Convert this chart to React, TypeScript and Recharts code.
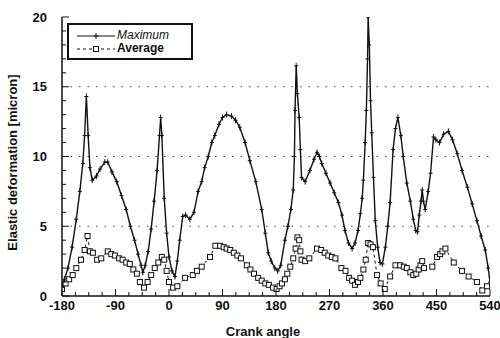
import React from "react";
import { LineChart, Line, XAxis, YAxis, CartesianGrid, Legend } from "recharts";

// crank angle (deg) / elastic deformation (micron)
const maxAngle = [
  -180, -176, -170, -163, -156, -150, -145, -142, -139, -136, -133, -129, -122, -116, -108, -103,
  -96, -88, -80, -72, -65, -58, -52, -47, -44, -40, -35, -30, -25, -20, -16, -14, -12, -8, -4,
  0, 5, 10, 14, 18, 23, 28, 35, 42, 49, 55, 60, 66, 72, 77, 84, 90, 97, 105, 112, 119, 128, 136,
  146, 156, 162, 167, 172, 178, 183, 188, 195, 200, 205, 209, 211, 212, 214, 216, 219, 221, 223,
  229, 237, 244, 249, 253, 257, 264, 271, 278, 285, 291, 296, 302, 308, 313, 318, 322, 325, 327,
  330, 332, 334, 335, 337, 339, 341, 344, 347, 351, 355, 359, 364, 368, 372, 377, 381, 385, 390,
  394, 400, 406, 411, 415, 418, 421, 424, 426, 428, 431, 436, 440, 445, 449, 455, 462, 470, 477,
  485, 493, 502, 510, 518, 525, 532, 537, 540,
];
const maxValue = [
  0.6, 1.2, 2.0, 3.5, 5.5, 7.5, 9.5, 11.5, 14.3, 11.5, 9.2, 8.3, 8.6, 9.1, 9.6, 9.6,
  8.9, 8.2, 7.2, 6.2, 5.0, 4.0, 3.0, 2.2, 1.7, 2.2, 3.2, 4.8, 6.8, 9.0, 11.5, 12.8, 11.5, 7.0, 4.5,
  2.8, 1.8, 1.4, 2.5, 4.0, 5.7, 5.8, 5.5, 6.0, 7.5, 8.2, 9.2, 10.0, 11.0, 11.5, 12.3, 12.8, 13.0, 12.9, 12.6, 12.1, 11.0, 9.7,
  8.2, 6.2, 4.5, 3.1, 2.5, 2.0, 1.8, 2.2, 4.0, 5.0, 6.2, 7.6, 10.0, 13.3, 16.5, 14.5, 12.8, 10.5, 8.5,
  8.2, 9.0, 9.8, 10.3, 10.0, 9.5, 8.8, 8.1, 7.4, 6.7, 5.8, 4.7, 3.8, 3.4, 3.8, 4.7, 5.9, 7.0, 8.3,
  11.0, 13.3, 17.0, 20.0, 18.0, 14.0, 11.7, 8.5, 5.4, 3.5, 2.4, 2.3, 3.5, 5.0, 6.7, 10.5, 12.0, 12.8, 11.5,
  10.0, 8.1, 6.8, 5.5, 4.7, 4.6, 5.8, 6.8, 7.6, 6.8, 6.2, 7.5, 8.8, 11.4, 11.2, 11.0, 11.6, 11.8, 11.2,
  10.2, 9.0, 7.8, 6.6, 5.4, 4.3, 3.3, 2.0, 1.0,
];

const avgAngle = [
  -180, -174, -168, -162, -156, -148, -142, -137, -133, -128, -121, -114, -103, -97, -91, -84, -78,
  -72, -66, -60, -54, -49, -42, -36, -30, -24, -18, -12, -8, -4, 0, 7, 14, 27, 40, 47, 55, 69, 78,
  86, 92, 97, 103, 109, 115, 121, 131, 137, 143, 150, 156, 162, 168, 175, 181, 186, 190, 195, 199,
  204, 209, 213, 216, 219, 221, 223, 229, 236, 249, 256, 262, 268, 274, 280, 290, 297, 303, 308,
  313, 318, 322, 327, 331, 335, 339, 343, 350, 356, 363, 372, 381, 389, 395, 400, 406, 411, 416,
  420, 423, 426, 429, 443, 451, 456, 460, 465, 479, 493, 504, 518, 527, 535,
];
const avgValue = [
  0.5, 0.9, 1.2, 1.5, 2.0, 2.6, 3.3, 4.3, 3.2, 3.1, 2.6, 2.7, 3.2, 3.0, 2.9, 2.7, 2.6,
  2.4, 2.3, 1.9, 1.6, 1.0, 0.6, 1.0, 1.5, 2.0, 2.4, 2.8, 2.6, 1.8, 1.0, 0.6, 0.7, 1.3, 1.5, 1.8, 2.1, 2.8, 3.6,
  3.6, 3.5, 3.4, 3.3, 3.1, 2.9, 2.7, 2.2, 1.9, 1.6, 1.3, 1.1, 0.9, 0.8, 0.6, 0.5, 0.7, 0.9, 1.2, 1.6,
  2.1, 2.7, 3.4, 4.2, 4.0, 3.2, 2.6, 2.5, 2.7, 3.4, 3.3, 3.1, 2.9, 2.8, 2.7, 2.0, 1.8, 1.3, 1.1,
  0.8, 1.0, 1.3, 1.9, 2.6, 3.8, 3.7, 3.5, 1.5, 0.9, 0.5, 1.4, 2.2, 2.2, 2.1, 2.0, 1.7, 1.5, 1.6,
  1.9, 2.2, 2.5, 2.0, 2.1, 2.8, 3.0, 3.2, 3.4, 2.4, 1.8, 1.4, 1.0, 0.4, 0.7,
];

const xMajorTicks = [-180, -90, 0, 90, 180, 270, 360, 450, 540];
const xMinorTicks = [
  -157.5, -135, -112.5, -67.5, -45, -22.5, 22.5, 45, 67.5, 112.5, 135, 157.5,
  202.5, 225, 247.5, 292.5, 315, 337.5, 382.5, 405, 427.5, 472.5, 495, 517.5,
];
const yMajorTicks = [0, 5, 10, 15, 20];
const yMinorTicks = [1, 2, 3, 4, 6, 7, 8, 9, 11, 12, 13, 14, 16, 17, 18, 19];

const maxData = maxAngle.map((a, i) => ({ angle: a, value: maxValue[i] }));
const avgData = avgAngle.map((a, i) => ({ angle: a, value: avgValue[i] }));
const xAllTicks = [...xMajorTicks, ...xMinorTicks].sort((a, b) => a - b);
const yAllTicks = [...yMajorTicks, ...yMinorTicks].sort((a, b) => a - b);

const FONT = "'Liberation Sans', Arial, sans-serif";
const tickStyle = { fontFamily: FONT, fontSize: 13, fontWeight: 700, fill: "#111" };
const MAJOR = 7;
const MINOR = 4;
const X_MARGIN = 9;
const Y_MARGIN = 15;

const isMajorX = (v: number) => xMajorTicks.includes(v);
const isMajorY = (v: number) => yMajorTicks.includes(v);

// bottom axis: inward tick line + label on majors
const BottomTick = (props: any) => {
  const { x, y, payload } = props;
  const axisY = y - X_MARGIN;
  const major = isMajorX(payload.value);
  return (
    <g>
      <line x1={x} y1={axisY} x2={x} y2={axisY - (major ? MAJOR : MINOR)} stroke="#111" />
      {major && (
        <text x={x} y={axisY + 14} textAnchor="middle" style={tickStyle}>
          {payload.value}
        </text>
      )}
    </g>
  );
};

const TopTick = (props: any) => {
  const { x, y, payload } = props;
  return <line x1={x} y1={y} x2={x} y2={y + (isMajorX(payload.value) ? MAJOR : MINOR)} stroke="#111" />;
};

const LeftTick = (props: any) => {
  const { x, y, payload } = props;
  const axisX = x + Y_MARGIN;
  const major = isMajorY(payload.value);
  return (
    <g>
      <line x1={axisX} y1={y} x2={axisX + (major ? MAJOR : MINOR)} y2={y} stroke="#111" />
      {major && (
        <text x={axisX - Y_MARGIN} y={y + 4.5} textAnchor="end" style={tickStyle}>
          {payload.value}
        </text>
      )}
    </g>
  );
};

const RightTick = (props: any) => {
  const { x, y, payload } = props;
  return <line x1={x} y1={y} x2={x - (isMajorY(payload.value) ? MAJOR : MINOR)} y2={y} stroke="#111" />;
};

const PlusDot = (props: any) => {
  const { cx, cy, index } = props;
  if (cx == null || cy == null) return <g key={`p-${index}`} />;
  return (
    <path
      key={`p-${index}`}
      d={`M${cx - 2},${cy}h4M${cx},${cy - 3}v6`}
      stroke="#111"
      strokeWidth={1}
      fill="none"
    />
  );
};

const SquareDot = (props: any) => {
  const { cx, cy, index } = props;
  if (cx == null || cy == null) return <g key={`s-${index}`} />;
  return (
    <rect key={`s-${index}`} x={cx - 2.5} y={cy - 2.5} width={5} height={5} fill="#fff" stroke="#111" strokeWidth={1} />
  );
};

const LegendBox = () => (
  <div
    style={{
      border: "2px solid #111",
      width: 126,
      height: 37,
      background: "#fff",
      fontFamily: FONT,
      fontSize: 12,
      fontWeight: 700,
      color: "#111",
      boxSizing: "border-box",
      padding: "4px 0 0 8px",
      lineHeight: "13px",
    }}
  >
    <div style={{ display: "flex", alignItems: "center" }}>
      <svg width={40} height={10}>
        <line x1={0} y1={5} x2={38} y2={5} stroke="#111" strokeWidth={1} />
        <path d="M17,5h4M19,2v6" stroke="#111" />
      </svg>
      <span style={{ fontStyle: "italic", fontWeight: 400 }}>Maximum</span>
    </div>
    <div style={{ display: "flex", alignItems: "center" }}>
      <svg width={40} height={10}>
        <line x1={0} y1={5} x2={38} y2={5} stroke="#111" strokeWidth={1} strokeDasharray="3 3" />
        <rect x={16.5} y={2.5} width={5} height={5} fill="#fff" stroke="#111" />
      </svg>
      <span>Average</span>
    </div>
  </div>
);

export default function App() {
  return (
    <div style={{ position: "absolute", left: 0, top: 0, width: 500, height: 338, background: "#fff" }}>
      <LineChart width={500} height={338} margin={{ top: 17, right: 10, bottom: 12, left: 0 }}>
        <CartesianGrid
          xAxisId="b"
          yAxisId="l"
          vertical={false}
          horizontalValues={[5, 10, 15]}
          stroke="#444"
          strokeDasharray="1.5 7"
        />
        <XAxis
          xAxisId="b"
          dataKey="angle"
          type="number"
          domain={[-180, 540]}
          ticks={xAllTicks}
          interval={0}
          allowDataOverflow
          height={30}
          tickLine={false}
          tickSize={0}
          tickMargin={X_MARGIN}
          axisLine={{ stroke: "#111", strokeWidth: 1.5 }}
          tick={<BottomTick />}
          label={{ value: "Crank angle", position: "insideBottom", offset: -10, dx: -13, style: { ...tickStyle, fontSize: 13 } }}
        />
        <XAxis
          xAxisId="t"
          orientation="top"
          type="number"
          domain={[-180, 540]}
          ticks={xAllTicks}
          interval={0}
          allowDataOverflow
          height={0}
          tickLine={false}
          tickSize={0}
          tickMargin={0}
          axisLine={{ stroke: "#111", strokeWidth: 1.5 }}
          tick={<TopTick />}
        />
        <YAxis
          yAxisId="l"
          type="number"
          domain={[0, 20]}
          ticks={yAllTicks}
          interval={0}
          allowDataOverflow
          width={62}
          tickLine={false}
          tickSize={0}
          tickMargin={Y_MARGIN}
          axisLine={{ stroke: "#111", strokeWidth: 1.5 }}
          tick={<LeftTick />}
          label={{ value: "Elastic deformation [micron]", angle: -90, position: "insideLeft", offset: 12, dy: 6, style: { ...tickStyle, textAnchor: "middle" } }}
        />
        <YAxis
          yAxisId="r"
          orientation="right"
          type="number"
          domain={[0, 20]}
          ticks={yAllTicks}
          interval={0}
          allowDataOverflow
          width={0}
          tickLine={false}
          tickSize={0}
          tickMargin={0}
          axisLine={{ stroke: "#111", strokeWidth: 1.5 }}
          tick={<RightTick />}
        />
        <Legend
          layout="horizontal"
          verticalAlign="middle"
          align="center"
          content={<LegendBox />}
          wrapperStyle={{ left: 67, top: 23, width: 126, height: 37 }}
        />
        <Line
          xAxisId="b"
          yAxisId="l"
          data={avgData}
          dataKey="value"
          type="linear"
          stroke="#111"
          strokeWidth={1}
          strokeDasharray="3 3"
          dot={SquareDot}
          isAnimationActive={false}
          name="Average"
        />
        <Line
          xAxisId="b"
          yAxisId="l"
          data={maxData}
          dataKey="value"
          type="linear"
          stroke="#111"
          strokeWidth={1.4}
          dot={PlusDot}
          isAnimationActive={false}
          name="Maximum"
        />
      </LineChart>
    </div>
  );
}
